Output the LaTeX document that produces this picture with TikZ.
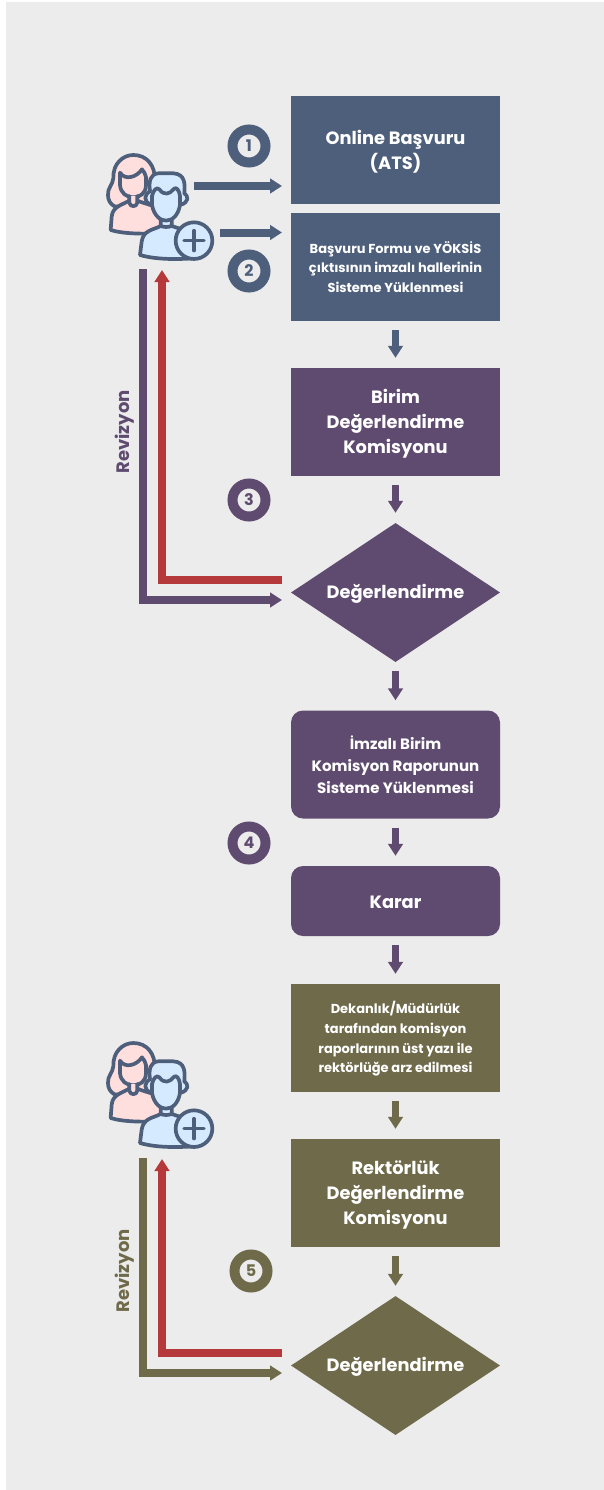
\documentclass[tikz,border=0pt]{standalone}
\usepackage{fontspec}
\setmainfont{Poppins}
\usetikzlibrary{shapes.geometric,arrows.meta}
\definecolor{navyc}{HTML}{4E5F7B}
\definecolor{purpc}{HTML}{5F4B70}
\definecolor{olivc}{HTML}{6E6A4A}
\definecolor{redc}{HTML}{B5393B}
\definecolor{bgc}{HTML}{ECECEC}
\definecolor{pinkc}{HTML}{FFDEDE}
\definecolor{bluec}{HTML}{D5EAFF}
\newcommand{\topgap}[1]{\rule{0pt}{#1pt}}
\tikzset{
  box/.style={draw=none,fill=#1,text=white,minimum width=209pt,minimum height=108pt,inner sep=0pt,align=center,font=\bfseries},
  rbox/.style={box=#1,rounded corners=12pt},
  dia/.style={diamond,draw=none,fill=#1,text=white,minimum width=209pt,minimum height=139pt,aspect=1.5,inner sep=0pt,align=center,font=\bfseries},
  num/.style={circle,draw=#1,fill=bgc,text=#1,line width=10pt,minimum size=33pt,inner sep=0pt,font=\bfseries\fontsize{16}{16}\selectfont},
  flow/.style={draw=#1,line width=7pt,-{Triangle[length=12pt,width=14.5pt,fill=#1]},shorten <=9pt,shorten >=10pt},
  link/.style={draw=#1,line width=8pt,-{Triangle[length=12pt,width=14.5pt,fill=#1]}},
  revlabel/.style={rotate=90,text=#1,font=\bfseries\fontsize{18}{18}\selectfont},
  big/.style={font=\bfseries\fontsize{17.8}{25}\selectfont},
  mid/.style={font=\bfseries\fontsize{15}{22}\selectfont},
  small/.style={font=\bfseries\fontsize{13}{19.6}\selectfont},
  pics/people/.style={code={
    \begin{scope}[x=0.3333pt,y=-0.3333pt,line width=3.7pt,draw=navyc,line join=round,line cap=round]
      % hair
      \filldraw[fill=pinkc] (75,350) .. controls (60,342) and (54,330) .. (54,315) .. controls (52,295) and (68,285) .. (70,265) .. controls (68,220) and (100,195) .. (130,195) .. controls (170,195) and (195,225) .. (195,270) -- (195,340) -- cycle;
      % body
      \filldraw[fill=pinkc] (118,332) .. controls (95,345) and (68,350) .. (65,380) -- (62,420) .. controls (100,432) and (160,432) .. (215,430) -- (215,360) .. controls (190,345) and (160,340) .. (142,332) -- cycle;
      % face
      \filldraw[fill=pinkc] (90,248) -- (90,285) .. controls (92,310) and (110,322) .. (130,322) .. controls (150,322) and (168,310) .. (168,285) -- (168,262) .. controls (165,250) and (162,245) .. (156,238) .. controls (140,262) and (105,272) .. (90,248) -- cycle;
      \filldraw[fill=pinkc] (118,318) -- (118,338) .. controls (120,352) and (140,352) .. (142,338) -- (142,318);
      % man body
      \filldraw[fill=bluec] (212,408) .. controls (190,420) and (160,420) .. (155,455) -- (150,495) .. controls (200,510) and (270,508) .. (310,505) -- (310,440) .. controls (290,420) and (265,415) .. (245,408) -- cycle;
      \filldraw[fill=bluec] (212,385) -- (212,408) .. controls (222,412) and (235,412) .. (245,408) -- (245,385) -- cycle;
      % man head
      \filldraw[fill=bluec] (180,303) .. controls (165,312) and (155,335) .. (186,345) .. controls (192,378) and (212,392) .. (228,392) .. controls (248,392) and (265,375) .. (270,345) .. controls (298,338) and (296,318) .. (283,310) .. controls (285,285) and (287,252) .. (250,250) -- (205,250) .. controls (180,252) and (176,275) .. (180,303) -- cycle;
      \draw (186,345) -- (186,318) .. controls (190,300) and (200,290) .. (208,298) .. controls (222,318) and (240,312) .. (250,298) .. controls (258,288) and (268,300) .. (270,318) -- (270,345);
      % plus
      \filldraw[fill=bluec] (312,452) circle[radius=55];
      \draw[line width=3.4pt] (312,422) -- (312,482) (282,452) -- (342,452);
    \end{scope}
  }}
}
\begin{document}
\begin{tikzpicture}[x=1pt,y=-1pt]
\useasboundingbox (0,0) rectangle (604,1490);
\fill[white] (0,0) rectangle (604,1490);
\fill[bgc] (6,2) rectangle (604,1490);

% boxes
\node[box=navyc,big] (b1) at (395.5,150) {\topgap{18}Online Başvuru\\(ATS)};
\node[box=navyc,small] (b2) at (395.5,267) {Başvuru Formu ve YÖKSİS\\çıktısının imzalı hallerinin\\Sisteme Yüklenmesi};
\node[box=purpc,big] (b3) at (395.5,422) {\topgap{18}Birim\\Değerlendirme\\Komisyonu};
\node[dia=purpc,big] (d1) at (395.5,592.5) {\topgap{16}Değerlendirme};
\node[rbox=purpc,mid] (b4) at (395.5,764.5) {İmzalı Birim\\Komisyon Raporunun\\Sisteme Yüklenmesi};
\node[rbox=purpc,big,minimum height=70pt] (b5) at (395.5,901) {\topgap{15}Karar};
\node[box=olivc,small] (b6) at (395.5,1038) {\topgap{14}Dekanlık/Müdürlük\\tarafından komisyon\\raporlarının üst yazı ile\\rektörlüğe arz edilmesi};
\node[box=olivc,big] (b7) at (395.5,1193) {\topgap{18}Rektörlük\\Değerlendirme\\Komisyonu};
\node[dia=olivc,big] (d2) at (395.5,1365.5) {\topgap{16}Değerlendirme};

% numbers
\node[num=navyc] (n1) at (249,146) {1};
\node[num=navyc] (n2) at (249,271) {2};
\node[num=purpc] (n3) at (249,500) {3};
\node[num=purpc] (n4) at (249,843) {4};
\node[num=olivc] (n5) at (251,1271) {5};

% people
\pic (p1) at (90,90) {people};
\pic (p2) at (90,978) {people};

% flow
\draw[flow=navyc] (b2) -- (b3);
\draw[flow=purpc] (b3) -- (d1);
\draw[flow=purpc] (d1) -- (b4);
\draw[flow=purpc] (b4) -- (b5);
\draw[flow=purpc] (b5) -- (b6);
\draw[flow=olivc] (b6) -- (b7);
\draw[flow=olivc] (b7) -- (d2);

% icon arrows
\coordinate (s1) at (194,186);
\coordinate (e1) at (282,186);
\coordinate (s2) at (220,232.5);
\coordinate (e2) at (282,232.5);
\draw[link=navyc] (s1) -- (e1);
\draw[link=navyc] (s2) -- (e2);

% revision loop 1
\coordinate (r1a) at (143,269);
\coordinate (r1b) at (143,600);
\coordinate (r1c) at (282,600);
\coordinate (r1d) at (282,580);
\coordinate (r1e) at (162,580);
\coordinate (r1f) at (162,270);
\draw[link=purpc] (r1a) -- (r1b) -- (r1c);
\draw[link=redc] (r1d) -- (r1e) -- (r1f);
\node[revlabel=purpc] (t1) at (124.5,432) {Revizyon};

% revision loop 2
\coordinate (r2a) at (143,1158);
\coordinate (r2b) at (143,1373);
\coordinate (r2c) at (282,1373);
\coordinate (r2d) at (282,1353);
\coordinate (r2e) at (162,1353);
\coordinate (r2f) at (162,1159);
\draw[link=olivc] (r2a) -- (r2b) -- (r2c);
\draw[link=redc] (r2d) -- (r2e) -- (r2f);
\node[revlabel=olivc] (t2) at (124.5,1271) {Revizyon};
\end{tikzpicture}
\end{document}
